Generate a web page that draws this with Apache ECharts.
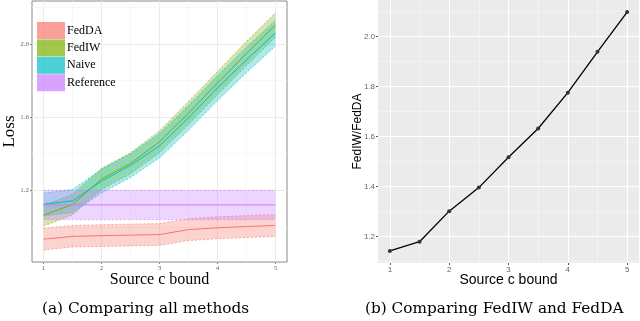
<!DOCTYPE html>
<html>
<head>
<meta charset="utf-8">
<script src="https://cdn.jsdelivr.net/npm/echarts@6/dist/echarts.min.js"></script>
<style>
  html, body { margin: 0; padding: 0; background: #fff; }
  #chart { width: 640px; height: 321px; }
</style>
</head>
<body>
<div id="chart"></div>
<script>
// source c bound values (shared by both panels)
const xs = [1, 1.5, 2, 2.5, 3, 3.5, 4, 4.5, 5]

// (a) loss per method: mean and ribbon bounds
const feddaMean = [0.933, 0.948, 0.952, 0.955, 0.958, 0.985, 0.995, 1.002, 1.008]
const feddaLow = [0.873, 0.89, 0.893, 0.896, 0.899, 0.925, 0.935, 0.942, 0.948]
const feddaHigh = [0.993, 1.008, 1.012, 1.015, 1.018, 1.045, 1.055, 1.062, 1.068]
const fediwMean = [1.064, 1.122, 1.262, 1.347, 1.465, 1.622, 1.786, 1.948, 2.103]
const fediwLow = [1.005, 1.065, 1.205, 1.29, 1.405, 1.56, 1.722, 1.882, 2.037]
const fediwHigh = [1.118, 1.178, 1.32, 1.405, 1.525, 1.685, 1.85, 2.013, 2.17]
const naiveMean = [1.125, 1.142, 1.25, 1.336, 1.443, 1.596, 1.759, 1.913, 2.06]
const naiveLow = [1.06, 1.078, 1.185, 1.27, 1.377, 1.528, 1.69, 1.843, 1.988]
const naiveHigh = [1.185, 1.205, 1.315, 1.4, 1.51, 1.663, 1.827, 1.982, 2.13]
const refMean = [1.12, 1.12, 1.12, 1.12, 1.12, 1.12, 1.12, 1.12, 1.12]
const refLow = [1.04, 1.04, 1.04, 1.04, 1.04, 1.04, 1.04, 1.04, 1.04]
const refHigh = [1.2, 1.2, 1.2, 1.2, 1.2, 1.2, 1.2, 1.2, 1.2]

// (b) ratio FedIW / FedDA
const ratio = [1.143, 1.18, 1.302, 1.396, 1.517, 1.632, 1.775, 1.938, 2.097]

// tick labels
const xMajor = [1, 2, 3, 4, 5]
const xMinor = [1.5, 2.5, 3.5, 4.5]
const lossMajor = [1.2, 1.6, 2.0]
const lossMinor = [1.0, 1.4, 1.8, 2.2]
const ratioMajor = [1.2, 1.4, 1.6, 1.8, 2.0]
const ratioMinor = [1.1, 1.3, 1.5, 1.7, 1.9, 2.1]

const methods = [
  { name: 'FedDA', color: '248,118,109', mean: feddaMean, low: feddaLow, high: feddaHigh },
  { name: 'FedIW', color: '124,174,0', mean: fediwMean, low: fediwLow, high: fediwHigh },
  { name: 'Naive', color: '0,191,196', mean: naiveMean, low: naiveLow, high: naiveHigh },
  { name: 'Reference', color: '199,124,255', mean: refMean, low: refLow, high: refHigh }
]

const serif = 'Liberation Serif'
const sans = 'Liberation Sans'
const pairs = (arr) => xs.map((x, i) => [x, arr[i]])

function gridAxis (opt) {
  // one axis carrying only grid lines (minor grid)
  return Object.assign({
    type: 'value',
    axisLine: { show: false },
    axisTick: { show: false },
    axisLabel: { show: false },
    splitLine: { show: true }
  }, opt)
}

// ribbon drawn as one polygon between low and high, through the axis scales
function ribbon (color) {
  return function (params, api) {
    if (params.dataIndexInside !== 0) return
    const n = params.dataInsideLength
    const top = []
    const bottom = []
    for (let i = 0; i < n; i++) {
      top.push(api.coord([api.value(0, i), api.value(2, i)]))
      bottom.push(api.coord([api.value(0, i), api.value(1, i)]))
    }
    const edge = { fill: null, stroke: 'rgba(' + color + ',0.85)', lineWidth: 0.7, lineDash: [2, 2] }
    return {
      type: 'group',
      children: [
        { type: 'polygon', shape: { points: top.concat(bottom.slice().reverse()) }, style: { fill: 'rgba(' + color + ',0.32)' } },
        { type: 'polyline', shape: { points: top }, style: edge },
        { type: 'polyline', shape: { points: bottom }, style: edge }
      ]
    }
  }
}

const series = []
methods.forEach((m) => {
  series.push({
    name: m.name + ' band',
    type: 'custom',
    xAxisIndex: 0,
    yAxisIndex: 0,
    silent: true,
    renderItem: ribbon(m.color),
    encode: { x: 0, y: [1, 2] },
    data: xs.map((x, i) => [x, m.low[i], m.high[i]])
  })
})
methods.forEach((m) => {
  series.push({
    name: m.name,
    type: 'line',
    xAxisIndex: 0,
    yAxisIndex: 0,
    data: pairs(m.mean),
    symbol: 'none',
    itemStyle: { color: 'rgba(' + m.color + ',0.75)' },
    lineStyle: { color: 'rgb(' + m.color + ')', width: 1 }
  })
})
series.push({
  name: 'ratio',
  type: 'line',
  xAxisIndex: 2,
  yAxisIndex: 2,
  data: pairs(ratio),
  symbol: 'circle',
  symbolSize: 4,
  itemStyle: { color: '#333' },
  lineStyle: { color: '#000', width: 1.3 }
})

const chart = echarts.init(document.getElementById('chart'))
chart.setOption({
  animation: false,
  grid: [
    { left: 28, top: 1, width: 259, height: 261, show: true, borderColor: '#8a8a8a', borderWidth: 1, backgroundColor: '#fff' },
    { left: 378, top: 0, width: 261, height: 263, show: true, borderWidth: 0, backgroundColor: '#EBEBEB' }
  ],
  legend: {
    left: 37,
    top: 22,
    orient: 'vertical',
    icon: 'rect',
    itemWidth: 28,
    itemHeight: 17,
    itemGap: 0.4,
    padding: 0,
    textStyle: { fontFamily: serif, fontSize: 12, color: '#000', padding: [0, 0, 0, -3] },
    data: methods.map((m) => ({ name: m.name, itemStyle: { color: 'rgba(' + m.color + ',0.7)' } }))
  },
  xAxis: [
    {
      type: 'value', gridIndex: 0, min: 0.8, max: 5.2,
      name: 'Source c bound', nameLocation: 'middle', nameGap: 10, nameMoveOverlap: false,
      nameTextStyle: { fontFamily: serif, fontSize: 16, color: '#000' },
      axisLine: { show: false },
      axisTick: { show: true, length: 2, customValues: xMajor, lineStyle: { color: '#888' } },
      axisLabel: { customValues: xMajor, fontFamily: serif, fontSize: 7, color: '#666', margin: 3 },
      splitLine: { lineStyle: { color: '#EBEBEB', width: 1 } }
    },
    gridAxis({ gridIndex: 0, min: 0.8, max: 5.2, axisTick: { show: false, customValues: xMinor }, splitLine: { lineStyle: { color: '#F2F2F2', width: 0.6 } } }),
    {
      type: 'value', gridIndex: 1, min: 0.8, max: 5.2,
      name: 'Source c bound', nameLocation: 'middle', nameGap: 10, nameMoveOverlap: false,
      nameTextStyle: { fontFamily: sans, fontSize: 14, color: '#000' },
      axisLine: { show: false },
      axisTick: { show: true, length: 2, customValues: xMajor, lineStyle: { color: '#555' } },
      axisLabel: { customValues: xMajor, fontFamily: sans, fontSize: 8, color: '#666', margin: 3 },
      splitLine: { lineStyle: { color: '#fff', width: 1.1 } }
    },
    gridAxis({ gridIndex: 1, min: 0.8, max: 5.2, axisTick: { show: false, customValues: xMinor }, splitLine: { lineStyle: { color: '#F7F7F7', width: 0.6 } } })
  ],
  yAxis: [
    {
      type: 'value', gridIndex: 0, min: 0.808, max: 2.235,
      name: 'Loss', nameLocation: 'middle', nameGap: 14, nameMoveOverlap: false,
      nameTextStyle: { fontFamily: serif, fontSize: 17, color: '#000' },
      axisLine: { show: false },
      axisTick: { show: true, length: 2, customValues: lossMajor, lineStyle: { color: '#888' } },
      axisLabel: { customValues: lossMajor, fontFamily: serif, fontSize: 7, color: '#666', margin: 3, formatter: (v) => v.toFixed(1) },
      splitLine: { lineStyle: { color: '#EBEBEB', width: 1 } }
    },
    gridAxis({ gridIndex: 0, min: 0.808, max: 2.235, axisTick: { show: false, customValues: lossMinor }, splitLine: { lineStyle: { color: '#F2F2F2', width: 0.6 } } }),
    {
      type: 'value', gridIndex: 1, min: 1.095, max: 2.145,
      name: 'FedIW/FedDA', nameLocation: 'middle', nameGap: 14, nameMoveOverlap: false,
      nameTextStyle: { fontFamily: sans, fontSize: 12, color: '#000' },
      axisLine: { show: false },
      axisTick: { show: true, length: 2, customValues: ratioMajor, lineStyle: { color: '#555' } },
      axisLabel: { customValues: ratioMajor, fontFamily: sans, fontSize: 8, color: '#666', margin: 3, formatter: (v) => v.toFixed(1) },
      splitLine: { lineStyle: { color: '#fff', width: 1.1 } }
    },
    gridAxis({ gridIndex: 1, min: 1.095, max: 2.145, axisTick: { show: false, customValues: ratioMinor }, splitLine: { lineStyle: { color: '#F7F7F7', width: 0.6 } } })
  ],
  graphic: [
    { type: 'text', left: 42, top: 302, style: { text: '(a) Comparing all methods', font: '15.3px "DejaVu Serif"', fill: '#000' } },
    { type: 'text', left: 365, top: 302, style: { text: '(b) Comparing FedIW and FedDA', font: '15.3px "DejaVu Serif"', fill: '#000' } }
  ],
  series: series
})
</script>
</body>
</html>
